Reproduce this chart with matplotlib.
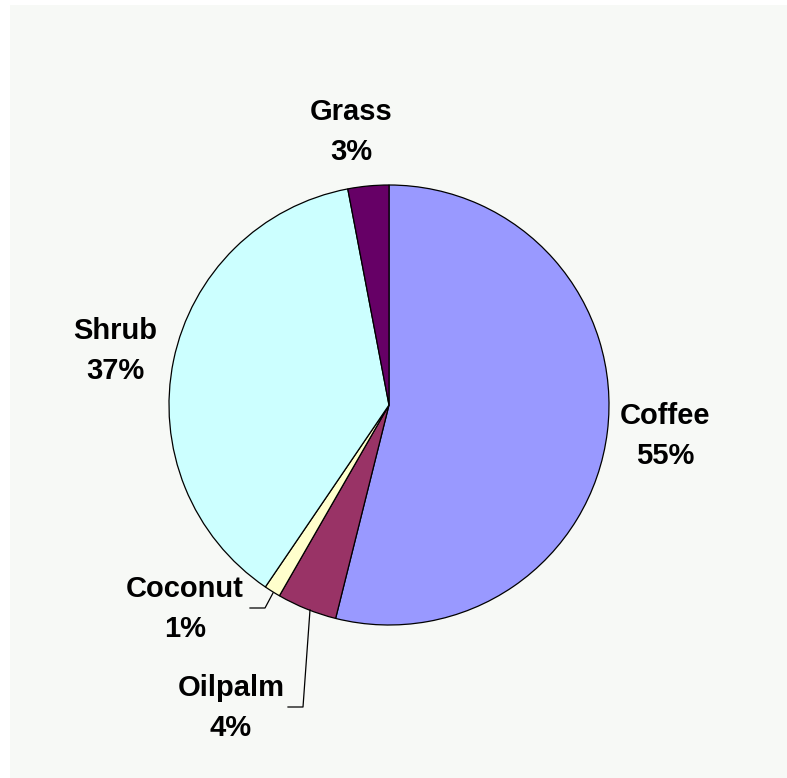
import matplotlib
matplotlib.use("Agg")
import matplotlib.pyplot as plt
from matplotlib.patches import Rectangle

categories = ["Coffee", "Oilpalm", "Coconut", "Shrub", "Grass"]
values = [53.9, 4.4, 1.2, 37.5, 3.0]
pct_labels = ["55%", "4%", "1%", "37%", "3%"]
colors = ["#9999FF", "#993366", "#FFFFCC", "#CCFFFF", "#660066"]

W, H = 787, 778
PANEL = "#F7F9F6"
fig = plt.figure(figsize=(W / 100, H / 100), dpi=100)
fig.patch.set_facecolor(PANEL)
# white margins on the left and top of the chart area
fig.patches.append(Rectangle((0, 0), 10 / W, 1, transform=fig.transFigure,
                             facecolor="white", edgecolor="none", zorder=0))
fig.patches.append(Rectangle((0, 1 - 5 / H), 1, 5 / H, transform=fig.transFigure,
                             facecolor="white", edgecolor="none", zorder=0))

ax = fig.add_axes([0, 0, 1, 1])
ax.patch.set_alpha(0)

cx, cy, r = 389, H - 405, 220
ax.pie(values, colors=colors, startangle=90, counterclock=False,
       center=(cx, cy), radius=r, frame=True,
       wedgeprops=dict(edgecolor="black", linewidth=0.9))
ax.set_xlim(0, W)
ax.set_ylim(0, H)
ax.set_aspect("equal")
ax.axis("off")

font = dict(family=["Liberation Sans", "DejaVu Sans"], fontsize=21, fontweight="bold",
            ha="center", va="center", color="black", linespacing=1.55)

label_pos = {
    "Coffee": (665, H - 436),
    "Oilpalm": (231, H - 708),
    "Coconut": (185, H - 609),
    "Shrub": (115, H - 351),
    "Grass": (351, H - 132),
}
for cat, pct in zip(categories, pct_labels):
    x, y = label_pos[cat]
    ax.text(x, y, f"{cat}\n{pct}", **font)

# leader lines
ax.plot([273, 265, 250], [H - 593, H - 608, H - 608], color="black", lw=0.9)
ax.plot([310, 303, 288], [H - 610, H - 707, H - 707], color="black", lw=0.9)

fig.savefig("out.png", dpi=100, facecolor=fig.get_facecolor())
